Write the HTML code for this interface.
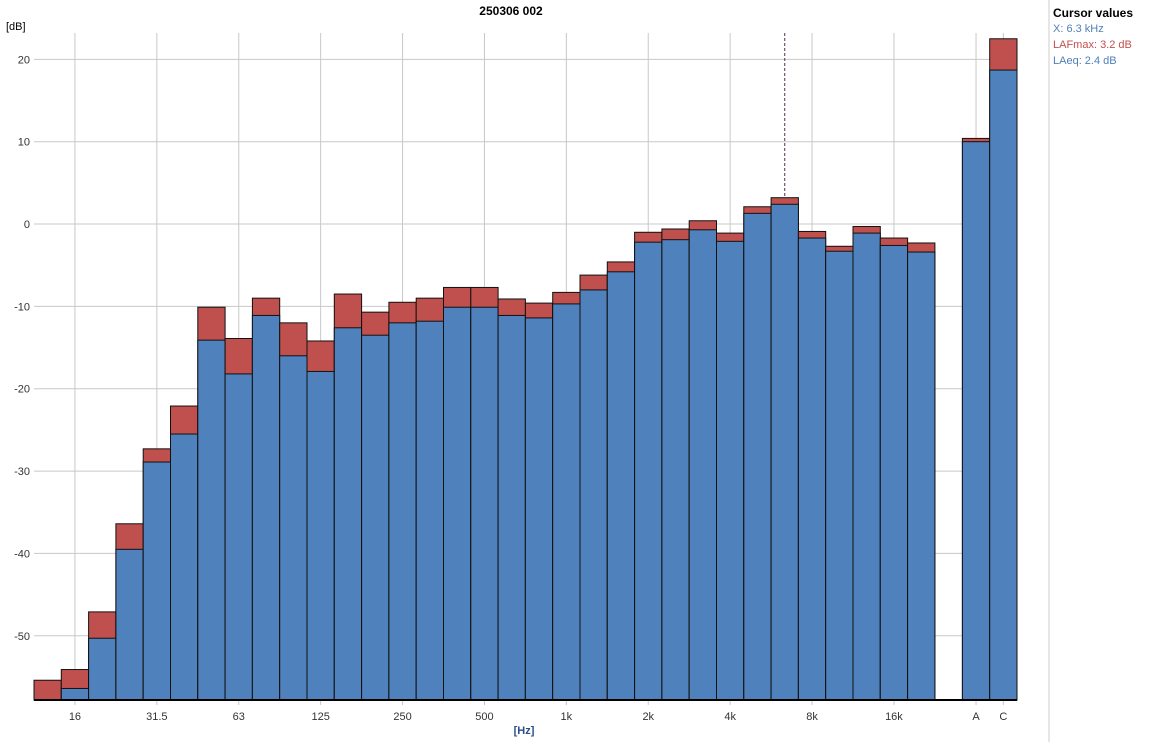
<!DOCTYPE html>
<html><head><meta charset="utf-8"><style>
body{margin:0;background:#fff;font-family:"Liberation Sans",sans-serif;}
svg text{font-family:"Liberation Sans",sans-serif;}
</style></head><body>
<svg id="c" width="1149" height="742" xmlns="http://www.w3.org/2000/svg">
<text x="511" y="15" font-size="12" font-weight="bold" text-anchor="middle">250306 002</text>
<text x="6" y="30" font-size="11">[dB]</text>
<text x="524" y="734" font-size="11" font-weight="bold" fill="#2b4f8a" text-anchor="middle">[Hz]</text>
<line x1="1049" y1="0" x2="1049" y2="742" stroke="#ccc"/>
<g>
<text x="1053" y="17" font-size="12" font-weight="bold">Cursor values</text>
<text x="1053" y="32" font-size="11" fill="#4f7fba">X: 6.3 kHz</text>
<text x="1053" y="48" font-size="11" fill="#c0504d">LAFmax: 3.2 dB</text>
<text x="1053" y="64" font-size="11" fill="#4f7fba">LAeq: 2.4 dB</text>
</g>
<g id="grid"></g><g id="bars"></g><g id="axes"></g>
</svg>
<script>
const bands=["12.5","16","20","25","31.5","40","50","63","80","100","125","160","200","250","315","400","500","630","800","1k","1.25k","1.6k","2k","2.5k","3.15k","4k","5k","6.3k","8k","10k","12.5k","16k","20k","A","C"];
const lafmax=[-55.4,-54.1,-47.1,-36.4,-27.3,-22.1,-10.1,-13.9,-9.0,-12.0,-14.2,-8.5,-10.7,-9.5,-9.0,-7.7,-7.7,-9.1,-9.6,-8.3,-6.2,-4.6,-1.0,-0.6,0.4,-1.1,2.1,3.2,-0.9,-2.7,-0.3,-1.7,-2.3,10.4,22.5];
const laeq=[-60,-56.4,-50.3,-39.5,-28.9,-25.5,-14.1,-18.2,-11.1,-16.0,-17.9,-12.6,-13.5,-12.0,-11.8,-10.1,-10.1,-11.1,-11.4,-9.7,-8.0,-5.8,-2.2,-1.9,-0.7,-2.1,1.3,2.4,-1.7,-3.3,-1.1,-2.6,-3.4,10.0,18.7];
const yTicks=[20,10,0,-10,-20,-30,-40,-50];
const xLabels=["16","31.5","63","125","250","500","1k","2k","4k","8k","16k","A","C"];
const cursorBand="6.3k";
const NS="http://www.w3.org/2000/svg";
const L=34,R=1017,T=33,B=700,bw=27.3,yMin=-57.8,yMax=23.2;
function y(v){return B-(v-yMin)/(yMax-yMin)*(B-T);}
function xi(i){return i<33?L+i*bw:L+(i+1)*bw-(33*bw+bw-(R-L-2*bw)) ;}
function xs(i){return i<33?L+i*bw:R-(35-i)*bw;}
function mk(t,a,p){const e=document.createElementNS(NS,t);for(const k in a)e.setAttribute(k,a[k]);p.appendChild(e);return e;}
const g=document.getElementById('grid'),b=document.getElementById('bars'),ax=document.getElementById('axes');
yTicks.forEach(v=>{const l=mk('line',{x1:L,x2:R,y1:y(v),y2:y(v),stroke:'#c8c8c8'},g);


const t=mk('text',{x:L-4,y:y(v)+4,'font-size':11,'text-anchor':'end',fill:'#333'},ax);t.textContent=v;

});
xLabels.forEach(lb=>{const i=bands.indexOf(lb);const cx=xs(i)+bw/2;
const l=mk('line',{x1:cx,x2:cx,y1:T,y2:B+5,stroke:'#c8c8c8'},g);


const t=mk('text',{x:cx,y:B+20,'font-size':11,'text-anchor':'middle',fill:'#333'},ax);t.textContent=lb;

});
bands.forEach((bd,i)=>{const x0=xs(i);
const r1=mk('rect',{x:x0,y:y(lafmax[i]),width:bw,height:Math.max(0,B-y(lafmax[i])),fill:'#c0504d',stroke:'#111','stroke-width':1},b);


const top=Math.max(y(laeq[i]),T);
if(top<B){const r2=mk('rect',{x:x0,y:top,width:bw,height:B-top,fill:'#4f81bd',stroke:'#111','stroke-width':1},b);

}});
const ci=bands.indexOf(cursorBand),cx=xs(ci)+bw/2;
const cl=mk('line',{x1:cx,x2:cx,y1:T,y2:y(lafmax[ci]),stroke:'#5a2a4a','stroke-dasharray':'3,2'},ax);


const xa=mk('line',{x1:L,x2:R,y1:B,y2:B,stroke:'#000','stroke-width':2},ax);


</script>
</body></html>
